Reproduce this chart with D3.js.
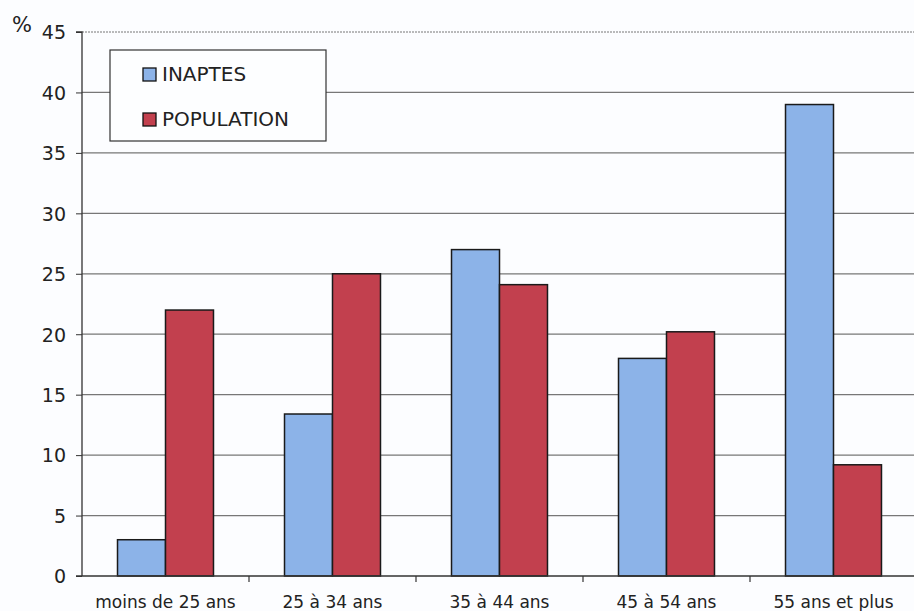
<!DOCTYPE html>
<html><head><meta charset="utf-8">
<script src="https://cdn.jsdelivr.net/npm/d3@7"></script>
<style>body{margin:0;background:#fcfdff;} text{font-family:"DejaVu Sans",Verdana,sans-serif;fill:#222;}</style>
</head><body>
<svg id="c" width="914" height="611"></svg>
<script>
const categories = ["moins de 25 ans","25 à 34 ans","35 à 44 ans","45 à 54 ans","55 ans et plus"];
const inaptes = [3, 13.4, 27, 18, 39];
const population = [22, 25, 24.1, 20.2, 9.2];
const seriesNames = ["INAPTES","POPULATION"];
const yTicks = [0,5,10,15,20,25,30,35,40,45];

const colors = ["#8cb3e8","#c2404e"];
const svg = d3.select("#c");
const m = {l:82, r:-3, t:32, b:35};
const W = 914, H = 611;
const x = d3.scaleBand().domain(categories).range([m.l, W - m.r]).paddingInner(0).paddingOuter(0);
const y = d3.scaleLinear().domain([0,45]).range([H - m.b, m.t]);
const x1 = d3.scaleBand().domain(seriesNames).range([0, x.bandwidth()]).paddingInner(0).paddingOuter(0.74);

// gridlines
svg.append("g").selectAll("line").data(yTicks.filter(d=>d>0 && d<45)).join("line")
  .attr("x1", m.l).attr("x2", W).attr("y1", d=>y(d)).attr("y2", d=>y(d))
  .attr("stroke","#777").attr("stroke-width",1.2);
svg.append("line").attr("x1", m.l).attr("x2", W).attr("y1", y(45)).attr("y2", y(45))
  .attr("stroke","#777").attr("stroke-width",1).attr("stroke-dasharray","2,1");

// bars
const data = categories.map((c,i)=>({c, vals:[inaptes[i], population[i]]}));
const g = svg.append("g").selectAll("g").data(data).join("g").attr("transform", d=>`translate(${x(d.c)},0)`);
g.selectAll("rect").data(d=>d.vals.map((v,j)=>({v, s:seriesNames[j], j}))).join("rect")
  .attr("x", d=>x1(d.s)).attr("width", x1.bandwidth())
  .attr("y", d=>y(d.v)).attr("height", d=>y(0)-y(d.v))
  .attr("fill", d=>colors[d.j]).attr("stroke","#1a1a1a").attr("stroke-width",1.5);

// y axis
const ya = d3.axisLeft(y).tickValues(yTicks).tickSize(6).tickPadding(10);
const yg = svg.append("g").attr("transform",`translate(${m.l},0)`).call(ya);
yg.select(".domain").attr("stroke","#333").attr("stroke-width",1.3).attr("d",`M-6,${y(45)}H0V${y(0)}`);
yg.selectAll(".tick line").attr("stroke","#333");
yg.selectAll("text").style("font-size","19px").attr("fill","#2a2a2a").attr("dy","0.36em");

// x axis
const xa = d3.axisBottom(x).tickSize(0).tickPadding(20);
const xg = svg.append("g").attr("transform",`translate(0,${y(0)})`).call(xa);
xg.select(".domain").attr("stroke","#333").attr("stroke-width",1.3).attr("d",`M${m.l-6},0H${W}`);
xg.selectAll("text").style("font-size","17px").attr("fill","#222").attr("dy",null).attr("y",32);
// category separator ticks
svg.append("g").selectAll("line").data(categories.slice(1)).join("line")
  .attr("x1", d=>x(d)).attr("x2", d=>x(d)).attr("y1", y(0)).attr("y2", y(0)+6)
  .attr("stroke","#333").attr("stroke-width",1.2);

// % label
svg.append("text").attr("x",12).attr("y",32).style("font-size","21px").text("%");

// legend
const lg = svg.append("g");
lg.append("rect").attr("x",110).attr("y",50).attr("width",216).attr("height",91)
  .attr("fill","#fdfeff").attr("stroke","#333").attr("stroke-width",1.2);
seriesNames.forEach((s,i)=>{
  const base = 81 + i*45;
  lg.append("rect").attr("x",143).attr("y",base-13).attr("width",13).attr("height",13)
    .attr("fill",colors[i]).attr("stroke","#111").attr("stroke-width",1.3);
  lg.append("text").attr("x",162).attr("y",base).style("font-size","20px").text(s);
});
</script>
</body></html>
